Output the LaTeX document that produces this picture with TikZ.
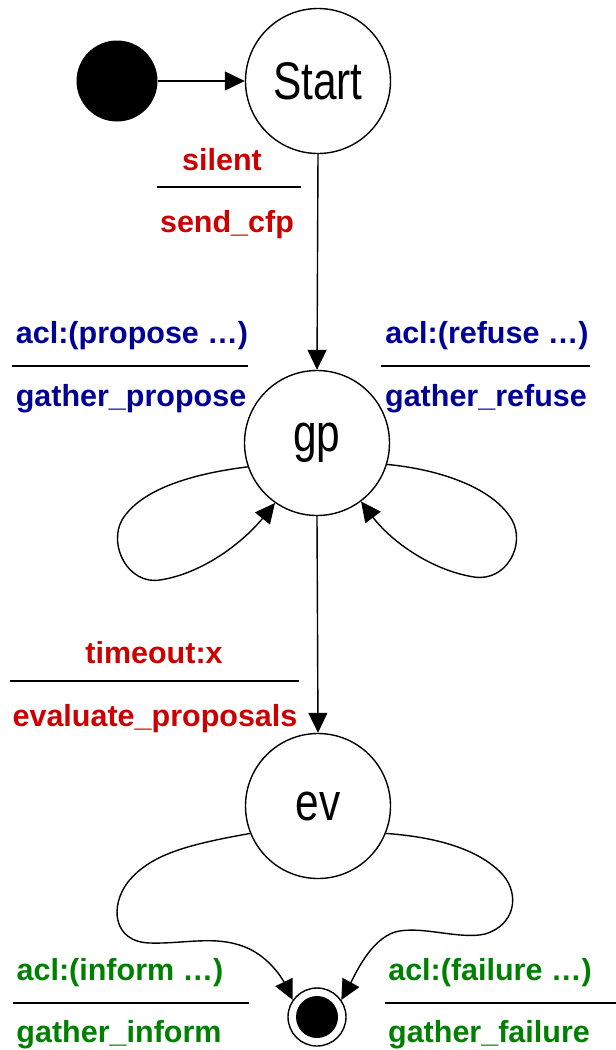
\documentclass[tikz,border=0pt]{standalone}
\usepackage{fontspec}
\setmainfont{Liberation Sans}
\newfontfamily\statefont[FakeStretch=0.8]{Liberation Sans}
\usetikzlibrary{arrows.meta}
\definecolor{lblred}{RGB}{204,0,0}
\definecolor{lblblue}{RGB}{0,0,150}
\definecolor{lblgreen}{RGB}{0,128,0}
\begin{document}
\begin{tikzpicture}[x=1pt,y=-1pt,
  line width=1.4pt,
  arr/.style={-{Triangle[length=20pt,width=19pt]}},
  state/.style={circle,draw,fill=white,minimum size=145pt,inner sep=0pt,
    font=\statefont\fontsize{53}{60}\selectfont},
  initdot/.style={circle,fill=black,minimum size=81pt,inner sep=0pt},
  finring/.style={circle,draw,minimum size=58pt,inner sep=0pt},
  lbl/.style={anchor=base,inner sep=0pt,font=\bfseries\fontsize{30.5}{36}\selectfont},
  sep/.style={line width=1.4pt}]
\useasboundingbox (0,0) rectangle (616,1050);

% states
\node[initdot] (init) at (117,81) {};
\node[state] (start) at (318,81) {Start};
\node[state] (gp) at (317,443) {gp};
\node[state] (ev) at (318,806) {ev};
\node[finring] (fin) at (317,1017) {};
\fill (fin.center) circle (21pt);

% transitions
\draw[arr] (init) -- (start);
\draw[arr] (start.south) -- (gp.north);
\draw[arr] (gp.south) -- (ev.north);

\draw[arr] (gp.199) .. controls (190,474) and (140,490) .. (122,520)
  .. controls (108,545) and (128,585) .. (160,580)
  .. controls (205,573) and (245,540) .. (gp.235);
\draw[arr] (gp.343) .. controls (445,470) and (495,490) .. (512,520)
  .. controls (526,545) and (506,582) .. (474,577)
  .. controls (430,570) and (390,540) .. (gp.307);

\draw[arr] (ev.202) .. controls (185,845) and (150,855) .. (128,882)
  .. controls (110,905) and (112,942) .. (150,943)
  .. controls (185,944) and (215,935) .. (245,947)
  .. controls (270,957) and (283,980) .. (fin.145);
\draw[arr] (ev.338) .. controls (450,838) and (485,855) .. (503,875)
  .. controls (520,895) and (515,925) .. (485,934)
  .. controls (460,940) and (420,925) .. (395,932)
  .. controls (370,940) and (355,975) .. (fin.35);

% labels
\node[lbl,lblred] (l1a) at (222,170) {silent};
\node[lbl,lblred] (l1b) at (227,232) {send\_cfp};
\draw[sep] (157,187) -- (301,187);

\node[lbl,lblblue] (l2a) at (132,343) {acl:(propose …)};
\node[lbl,lblblue] (l2b) at (131,406) {gather\_propose};
\draw[sep] (12,366) -- (248,366);

\node[lbl,lblblue] (l3a) at (487,343) {acl:(refuse …)};
\node[lbl,lblblue] (l3b) at (486,406) {gather\_refuse};
\draw[sep] (381,366) -- (590,366);

\node[lbl,lblred] (l4a) at (154,663) {timeout:x};
\node[lbl,lblred] (l4b) at (155,726) {evaluate\_proposals};
\draw[sep] (10,681) -- (299,681);

\node[lbl,lblgreen] (l5a) at (120,980) {acl:(inform …)};
\node[lbl,lblgreen] (l5b) at (119,1042) {gather\_inform};
\draw[sep] (13,1003) -- (249,1003);

\node[lbl,lblgreen] (l6a) at (490,980) {acl:(failure …)};
\node[lbl,lblgreen] (l6b) at (489,1042) {gather\_failure};
\draw[sep] (385,1003) -- (616,1003);
\end{tikzpicture}
\end{document}
